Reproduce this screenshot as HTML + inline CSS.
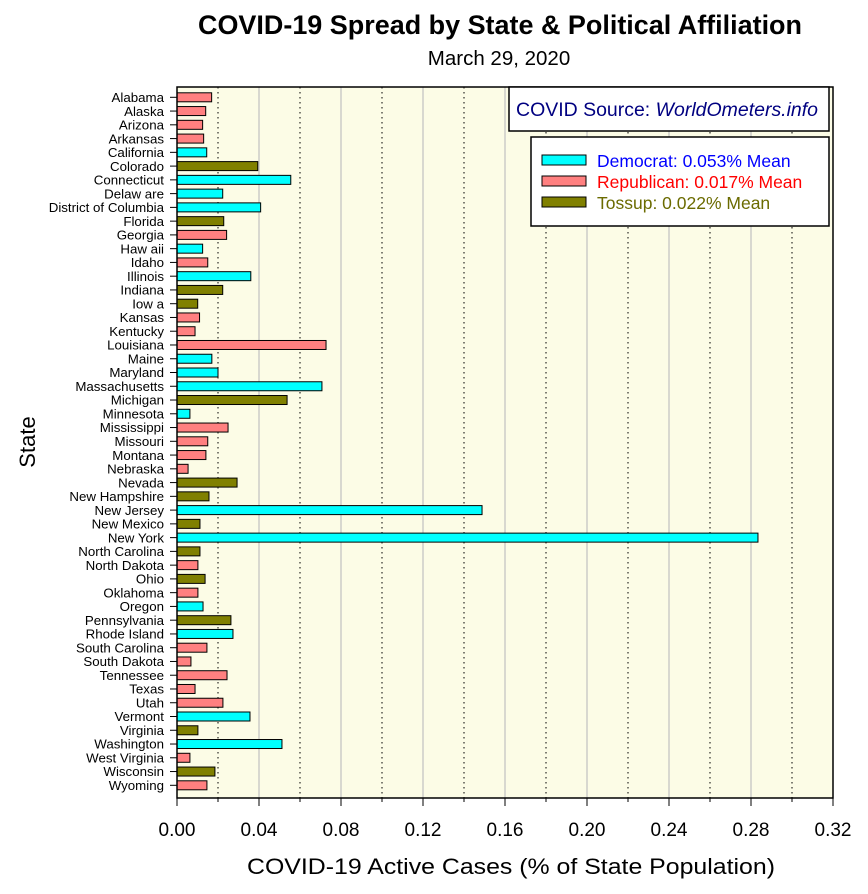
<!DOCTYPE html>
<html><head><meta charset="utf-8"><style>
body{margin:0;background:#fff;font-family:"Liberation Sans",Arial,sans-serif}
svg text{font-family:"Liberation Sans",Arial,sans-serif}
</style></head><body>
<svg id="chart" width="868" height="889" xmlns="http://www.w3.org/2000/svg">
<text x="500" y="34" text-anchor="middle" font-size="26.5" font-weight="bold" textLength="604" lengthAdjust="spacingAndGlyphs">COVID-19 Spread by State &amp; Political Affiliation</text>
<text x="499" y="65" text-anchor="middle" font-size="20.5">March 29, 2020</text>
<rect x="177" y="87" width="656" height="711" fill="#FCFCE6"/>
<g id="grid"></g>
<g id="bars"></g>
<g id="yaxis"></g>
<g id="xaxis"></g>
<rect x="177" y="87" width="656" height="711" fill="none" stroke="#000" stroke-width="1.5"/>
<g>
<rect x="509" y="87" width="320" height="44" fill="#fff" stroke="#000" stroke-width="1.5"/>
<text x="667" y="116" text-anchor="middle" font-size="19" fill="#000080" textLength="302" lengthAdjust="spacingAndGlyphs">COVID Source: <tspan font-style="italic">WorldOmeters.info</tspan></text>
</g>
<g>
<rect x="531" y="137" width="298" height="89" fill="#fff" stroke="#000" stroke-width="1.5"/>
<g><rect x="542" y="155" width="44" height="10" fill="#00FFFF" stroke="#000"/><text x="597" y="167" font-size="17.5" fill="#0000FF">Democrat: 0.053% Mean</text></g>
<g><rect x="542" y="176" width="44" height="10" fill="#FF8080" stroke="#000"/><text x="597" y="188" font-size="17.5" fill="#FF0000">Republican: 0.017% Mean</text></g>
<g><rect x="542" y="197" width="44" height="10" fill="#808000" stroke="#000"/><text x="597" y="209" font-size="17.5" fill="#6B6B00">Tossup: 0.022% Mean</text></g>
</g>
<text transform="translate(35,442) rotate(-90)" text-anchor="middle" font-size="22">State</text>
<text x="511" y="874" text-anchor="middle" font-size="22" textLength="528" lengthAdjust="spacingAndGlyphs">COVID-19 Active Cases (% of State Population)</text>
</svg>
<script>
const states=["Alabama","Alaska","Arizona","Arkansas","California","Colorado","Connecticut","Delaw are","District of Columbia","Florida","Georgia","Haw aii","Idaho","Illinois","Indiana","Iow a","Kansas","Kentucky","Louisiana","Maine","Maryland","Massachusetts","Michigan","Minnesota","Mississippi","Missouri","Montana","Nebraska","Nevada","New  Hampshire","New  Jersey","New  Mexico","New  York","North Carolina","North Dakota","Ohio","Oklahoma","Oregon","Pennsylvania","Rhode Island","South Carolina","South Dakota","Tennessee","Texas","Utah","Vermont","Virginia","Washington","West Virginia","Wisconsin","Wyoming"];
const values=[0.0169,0.014,0.0125,0.013,0.0145,0.0394,0.0555,0.0223,0.0408,0.0228,0.0242,0.0125,0.015,0.036,0.0223,0.0101,0.011,0.0088,0.0727,0.017,0.020,0.0707,0.0537,0.0063,0.0249,0.015,0.0141,0.0054,0.0293,0.0156,0.1488,0.0112,0.2834,0.0112,0.0102,0.0137,0.0102,0.0127,0.0263,0.0273,0.0146,0.0068,0.0244,0.0088,0.0224,0.0356,0.0102,0.0512,0.0063,0.0185,0.0146];
const parties=["R","R","R","R","D","T","D","D","D","T","R","D","R","D","T","T","R","R","R","D","D","D","T","D","R","R","R","R","T","T","D","T","D","T","R","T","R","D","T","D","R","R","R","R","R","D","T","D","R","T","R"];
const xTicks=[0,0.04,0.08,0.12,0.16,0.20,0.24,0.28,0.32];
const xTickLabels=["0.00","0.04","0.08","0.12","0.16","0.20","0.24","0.28","0.32"];
const NS="http://www.w3.org/2000/svg";
const X0=177,X1=833,Y0=87,Y1=798,XMAX=0.32;
const x=v=>X0+v/XMAX*(X1-X0);
const y=i=>97.3+i*13.76;
const colors={D:"#00FFFF",R:"#FF8080",T:"#808000"};
function mk(tag,attrs,parent){const e=document.createElementNS(NS,tag);for(const k in attrs)e.setAttribute(k,attrs[k]);parent.appendChild(e);return e;}
const grid=document.getElementById('grid'),bars=document.getElementById('bars'),ya=document.getElementById('yaxis'),xa=document.getElementById('xaxis');
for(let k=1;k<16;k++){const v=k*0.02;const solid=k%2===0;
 const l=mk('line',{x1:x(v),x2:x(v),y1:Y0,y2:Y1,stroke:solid?"#C0C0C0":"#000","stroke-width":solid?1.2:1,"stroke-dasharray":solid?"":"1.5,3.5"},grid);
 
 
 const t=mk('line',{x1:x(v),x2:x(v),y1:Y1,y2:Y1+(solid?8:4),stroke:"#000"},xa);
 
 
}
xTicks.forEach((v,i)=>{
 const t=mk('line',{x1:x(v),x2:x(v),y1:Y1,y2:Y1+8,stroke:"#000"},xa);
 
 
 const tx=mk('text',{x:x(v),y:836,"text-anchor":"middle","font-size":"19"},xa);
 tx.textContent=xTickLabels[i];
 
 
});
states.forEach((s,i)=>{
 const r=mk('rect',{x:X0,y:y(i)-4.5,width:x(values[i])-X0,height:9,fill:colors[parties[i]],stroke:"#000","stroke-width":1},bars);
 
 
 const t=mk('line',{x1:X0-7,x2:X0,y1:y(i),y2:y(i),stroke:"#000"},ya);
 
 
 const tx=mk('text',{x:164,y:y(i)+4.7,"text-anchor":"end","font-size":"13.3"},ya);
 tx.textContent=s;
 
 
});
</script>
</body></html>
